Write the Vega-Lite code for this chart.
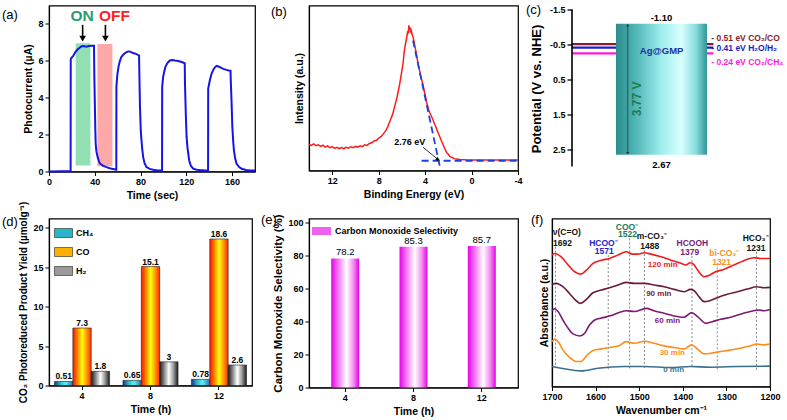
{
  "$schema": "https://vega.github.io/schema/vega-lite/v6.json",
  "background": "white",
  "padding": {"left": 1, "top": 3.5, "right": 0, "bottom": 0},
  "config": {
    "font": "Liberation Sans",
    "view": {"stroke": "black", "strokeWidth": 1.2},
    "axis": {
      "grid": false, "domainColor": "black", "domainWidth": 1.2, "tickColor": "black", "tickSize": 4, "tickWidth": 1,
      "labelFont": "Liberation Sans", "labelFontSize": 9, "labelFontWeight": "bold", "labelColor": "black", "labelPadding": 2,
      "labelOverlap": false, "labelFlush": false,
      "titleFont": "Liberation Sans", "titleFontSize": 10.5, "titleFontWeight": "bold", "titleColor": "black", "titlePadding": 4
    },
    "title": {"font": "Liberation Sans", "fontSize": 13, "fontWeight": "normal", "color": "black", "anchor": "start", "frame": "group", "offset": 0, "baseline": "middle"}
  },
  "resolve": {"legend": {"fill": "independent"}},
  "spacing": -2,
  "vconcat": [
    {
      "bounds": "flush",
      "spacing": 54,
      "hconcat": [
        {
          "width": 206, "height": 166,
          "title": {"text": " (a)", "dx": -47, "dy": 20.5},
          "resolve": {"scale": {"color": "independent"}},
          "layer": [
            {
              "data": {"values": [
                {"start": 23.3, "end": 36.2, "low": 0.33, "high": 6.96, "state": "ON"},
                {"start": 42.3, "end": 55.4, "low": 0.29, "high": 6.91, "state": "OFF"}
              ]},
              "mark": {"type": "rect", "opacity": 0.9},
              "encoding": {
                "x": {"field": "start", "type": "quantitative", "scale": {"domain": [0, 180], "nice": false}, "axis": {"values": [0, 20, 40, 60, 80, 100, 120, 140, 160, 180], "title": "Time (sec)"}},
                "x2": {"field": "end"},
                "y": {"field": "low", "type": "quantitative", "scale": {"domain": [0, 9], "nice": false}, "axis": {"values": [0, 2, 4, 6, 8], "title": "Photocurrent (µA)"}},
                "y2": {"field": "high"},
                "color": {"field": "state", "type": "nominal", "scale": {"domain": ["ON", "OFF"], "range": ["#86dbab", "#ff9f9f"]}, "legend": null}
              }
            },
            {
              "data": {"values": [
                {"t": 0, "i": 0}, {"t": 10, "i": 0.01}, {"t": 18.9, "i": 0.01}, {"t": 19.0, "i": 6.1}, {"t": 20.1, "i": 6.2}, {"t": 21, "i": 6.25}, {"t": 22.5, "i": 6.42}, {"t": 24, "i": 6.55}, {"t": 25.4, "i": 6.64}, {"t": 27, "i": 6.72}, {"t": 28.3, "i": 6.78}, {"t": 30, "i": 6.8}, {"t": 32.7, "i": 6.76}, {"t": 35, "i": 6.8}, {"t": 37, "i": 6.82}, {"t": 39.3, "i": 6.82},
                {"t": 39.6, "i": 5.2}, {"t": 40, "i": 3.87}, {"t": 40.5, "i": 2.2}, {"t": 40.8, "i": 1.5}, {"t": 41.4, "i": 1.1}, {"t": 42.5, "i": 0.78}, {"t": 44.3, "i": 0.45}, {"t": 47, "i": 0.32}, {"t": 50.2, "i": 0.24}, {"t": 53, "i": 0.18}, {"t": 56, "i": 0.14}, {"t": 58.8, "i": 0.1},
                {"t": 58.9, "i": 4.6}, {"t": 59.8, "i": 5.3}, {"t": 60.8, "i": 5.7}, {"t": 61.8, "i": 5.96}, {"t": 63, "i": 6.18}, {"t": 64.8, "i": 6.33}, {"t": 67, "i": 6.45}, {"t": 69.1, "i": 6.51}, {"t": 71, "i": 6.5}, {"t": 73.5, "i": 6.42}, {"t": 76, "i": 6.38}, {"t": 78.7, "i": 6.29},
                {"t": 78.9, "i": 5.5}, {"t": 79.5, "i": 3.5}, {"t": 80.2, "i": 2.2}, {"t": 80.8, "i": 1.7}, {"t": 81.5, "i": 1.2}, {"t": 82.3, "i": 0.78}, {"t": 83.5, "i": 0.45}, {"t": 85.2, "i": 0.24}, {"t": 88, "i": 0.14}, {"t": 91, "i": 0.1}, {"t": 95, "i": 0.06}, {"t": 98.8, "i": 0.05},
                {"t": 98.9, "i": 4.6}, {"t": 99.8, "i": 5.15}, {"t": 100.8, "i": 5.45}, {"t": 101.8, "i": 5.69}, {"t": 103.5, "i": 5.88}, {"t": 105.6, "i": 6.02}, {"t": 108, "i": 6.05}, {"t": 110, "i": 6.02}, {"t": 112, "i": 6.0}, {"t": 114.4, "i": 5.96}, {"t": 116.5, "i": 5.92}, {"t": 118.6, "i": 5.87},
                {"t": 118.8, "i": 4.8}, {"t": 119.5, "i": 3.2}, {"t": 120.2, "i": 1.9}, {"t": 121, "i": 1.3}, {"t": 122.5, "i": 0.6}, {"t": 124, "i": 0.3}, {"t": 126, "i": 0.15}, {"t": 129, "i": 0.1}, {"t": 132, "i": 0.08}, {"t": 136, "i": 0.06}, {"t": 139.0, "i": 0.05},
                {"t": 139.1, "i": 4.5}, {"t": 140.6, "i": 4.96}, {"t": 142, "i": 5.3}, {"t": 143.5, "i": 5.51}, {"t": 145, "i": 5.65}, {"t": 146.4, "i": 5.73}, {"t": 148.5, "i": 5.68}, {"t": 150.8, "i": 5.6}, {"t": 153, "i": 5.55}, {"t": 155.2, "i": 5.51}, {"t": 157, "i": 5.48}, {"t": 158.6, "i": 5.47},
                {"t": 158.8, "i": 5.0}, {"t": 159.5, "i": 3.8}, {"t": 160.2, "i": 2.42}, {"t": 161, "i": 1.6}, {"t": 161.6, "i": 1.15}, {"t": 162.7, "i": 0.7}, {"t": 163.9, "i": 0.42}, {"t": 166, "i": 0.25}, {"t": 168.3, "i": 0.15}, {"t": 172, "i": 0.08}, {"t": 176, "i": 0.06}, {"t": 180, "i": 0.05}
              ]},
              "mark": {"type": "line", "color": "#1515e8", "strokeWidth": 2},
              "encoding": {
                "x": {"field": "t", "type": "quantitative", "sort": null},
                "y": {"field": "i", "type": "quantitative"}
              }
            },
            {
              "data": {"values": [{"t": 28.9, "v": 8.42, "label": "ON"}, {"t": 57.2, "v": 8.42, "label": "OFF"}]},
              "mark": {"type": "text", "fontSize": 15.5, "fontWeight": "bold"},
              "encoding": {
                "x": {"field": "t", "type": "quantitative"},
                "y": {"field": "v", "type": "quantitative"},
                "text": {"field": "label"},
                "color": {"field": "label", "type": "nominal", "scale": {"domain": ["ON", "OFF"], "range": ["#2c9c6e", "#ff1f1f"]}, "legend": null}
              }
            },
            {
              "data": {"values": [{"t": 29.4}, {"t": 49.3}]},
              "mark": {"type": "rule", "color": "black", "strokeWidth": 1.6},
              "encoding": {"x": {"field": "t", "type": "quantitative"}, "y": {"datum": 7.95}, "y2": {"datum": 7.3}}
            },
            {
              "data": {"values": [{"t": 29.4}, {"t": 49.3}]},
              "mark": {"type": "point", "shape": "triangle-down", "filled": true, "color": "black", "size": 45, "opacity": 1},
              "encoding": {"x": {"field": "t", "type": "quantitative"}, "y": {"datum": 7.2}}
            }
          ]
        },
        {
          "width": 209, "height": 165,
          "title": {"text": "(b)", "dx": -38, "dy": 17.5},
          "layer": [
            {
              "data": {"values": [
                {"e": 14.0, "v": 15.8}, {"e": 13.8, "v": 15.2}, {"e": 13.6, "v": 16.1}, {"e": 13.4, "v": 15.0}, {"e": 13.2, "v": 15.6}, {"e": 13.0, "v": 14.6}, {"e": 12.8, "v": 15.3}, {"e": 12.6, "v": 14.2}, {"e": 12.4, "v": 14.9}, {"e": 12.2, "v": 13.8}, {"e": 12.0, "v": 14.5}, {"e": 11.8, "v": 13.4}, {"e": 11.6, "v": 14.1}, {"e": 11.4, "v": 13.3}, {"e": 11.2, "v": 13.9}, {"e": 11.0, "v": 13.2}, {"e": 10.8, "v": 14.0}, {"e": 10.6, "v": 13.5}, {"e": 10.4, "v": 14.4}, {"e": 10.2, "v": 13.8}, {"e": 10.0, "v": 14.6}, {"e": 9.8, "v": 14.2}, {"e": 9.6, "v": 15.0}, {"e": 9.4, "v": 14.5}, {"e": 9.2, "v": 15.6}, {"e": 9.0, "v": 15.2}, {"e": 8.8, "v": 16.4}, {"e": 8.6, "v": 16.8}, {"e": 8.4, "v": 17.9}, {"e": 8.2, "v": 18.2}, {"e": 8.0, "v": 19.6}, {"e": 7.8, "v": 20.5}, {"e": 7.6, "v": 22.2}, {"e": 7.4, "v": 24.0}, {"e": 7.2, "v": 26.8}, {"e": 7.0, "v": 30.5}, {"e": 6.8, "v": 34.0}, {"e": 6.6, "v": 39.5}, {"e": 6.4, "v": 45.0}, {"e": 6.2, "v": 52.0}, {"e": 6.0, "v": 60.5}, {"e": 5.9, "v": 65.0}, {"e": 5.8, "v": 72.0}, {"e": 5.7, "v": 76.5}, {"e": 5.6, "v": 80.0}, {"e": 5.5, "v": 84.5}, {"e": 5.45, "v": 83.0}, {"e": 5.4, "v": 88.0}, {"e": 5.35, "v": 85.5}, {"e": 5.3, "v": 86.8}, {"e": 5.25, "v": 83.5}, {"e": 5.2, "v": 84.8}, {"e": 5.1, "v": 82.0}, {"e": 5.0, "v": 79.8}, {"e": 4.9, "v": 76.0}, {"e": 4.8, "v": 72.5}, {"e": 4.7, "v": 68.5}, {"e": 4.6, "v": 64.6}, {"e": 4.5, "v": 61.5}, {"e": 4.4, "v": 58.0}, {"e": 4.3, "v": 55.0}, {"e": 4.2, "v": 52.5}, {"e": 4.1, "v": 49.0}, {"e": 4.0, "v": 46.0}, {"e": 3.9, "v": 42.5}, {"e": 3.8, "v": 39.5}, {"e": 3.7, "v": 37.0}, {"e": 3.6, "v": 35.0}, {"e": 3.5, "v": 33.5}, {"e": 3.4, "v": 32.0}, {"e": 3.3, "v": 30.3}, {"e": 3.2, "v": 28.5}, {"e": 3.1, "v": 26.8}, {"e": 3.0, "v": 25.0}, {"e": 2.9, "v": 23.2}, {"e": 2.8, "v": 21.5}, {"e": 2.7, "v": 19.8}, {"e": 2.6, "v": 18.0}, {"e": 2.5, "v": 16.5}, {"e": 2.4, "v": 14.8}, {"e": 2.3, "v": 13.2}, {"e": 2.2, "v": 11.8}, {"e": 2.1, "v": 10.5}, {"e": 2.0, "v": 9.8}, {"e": 1.9, "v": 8.8}, {"e": 1.8, "v": 8.2}, {"e": 1.65, "v": 7.7}, {"e": 1.5, "v": 7.2}, {"e": 1.3, "v": 6.9}, {"e": 1.0, "v": 6.7}, {"e": 0.5, "v": 6.5}, {"e": 0.0, "v": 6.4}, {"e": -1.0, "v": 6.3}, {"e": -2.0, "v": 6.3}, {"e": -3.0, "v": 6.3}, {"e": -4.0, "v": 6.3}
              ]},
              "mark": {"type": "line", "color": "#ff1a1a", "strokeWidth": 1.5},
              "encoding": {
                "x": {"field": "e", "type": "quantitative", "scale": {"domain": [-4, 14], "reverse": true, "nice": false}, "axis": {"values": [14, 12, 10, 8, 6, 4, 2, 0, -2, -4], "title": "Binding Energy (eV)", "labelExpr": "replace(format(datum.value, 'd'), '−', '-')"}},
                "y": {"field": "v", "type": "quantitative", "scale": {"domain": [0, 100], "nice": false}, "axis": {"labels": false, "ticks": false, "title": "Intensity (a.u.)", "titlePadding": 5}}
              }
            },
            {
              "data": {"values": [
                {"seg": "tangent", "e": 5.04, "v": 78.8}, {"seg": "tangent", "e": 2.69, "v": 1.0},
                {"seg": "base", "e": 4.3, "v": 5.9}, {"seg": "base", "e": -4, "v": 5.9}
              ]},
              "mark": {"type": "line", "color": "#1f3fe0", "strokeWidth": 1.8, "strokeDash": [7, 4]},
              "encoding": {
                "x": {"field": "e", "type": "quantitative"},
                "y": {"field": "v", "type": "quantitative"},
                "detail": {"field": "seg"}
              }
            },
            {
              "data": {"values": [{"e1": 4.18, "v1": 14.1, "e2": 2.95, "v2": 7.0}]},
              "mark": {"type": "rule", "color": "black", "strokeWidth": 0.8},
              "encoding": {
                "x": {"field": "e1", "type": "quantitative"}, "y": {"field": "v1", "type": "quantitative"},
                "x2": {"field": "e2"}, "y2": {"field": "v2"}
              }
            },
            {
              "data": {"values": [{"e": 2.9, "v": 6.6}]},
              "mark": {"type": "point", "shape": "triangle-up", "angle": 130, "filled": true, "color": "black", "size": 18, "opacity": 1},
              "encoding": {"x": {"field": "e", "type": "quantitative"}, "y": {"field": "v", "type": "quantitative"}}
            },
            {
              "data": {"values": [{"e": 5.33, "v": 17.2, "label": "2.76 eV"}]},
              "mark": {"type": "text", "fontSize": 9, "fontWeight": "bold", "color": "black"},
              "encoding": {"x": {"field": "e", "type": "quantitative"}, "y": {"field": "v", "type": "quantitative"}, "text": {"field": "label"}}
            }
          ]
        },
        {
          "width": 140, "height": 166,
          "view": {"stroke": null},
          "title": {"text": "(c)", "dx": -46, "dy": 15.5},
          "layer": [
            {
              "data": {"values": [
                {"pair": "CO₂/CO", "pot": -0.51, "ly": -0.67, "label": "- 0.51 eV CO₂/CO"},
                {"pair": "H₂O/H₂", "pot": -0.41, "ly": -0.40, "label": "- 0.41 eV H₂O/H₂"},
                {"pair": "CO₂/CH₄", "pot": -0.24, "ly": 0.0, "label": "- 0.24 eV CO₂/CH₄"}
              ]},
              "layer": [
                {
                  "mark": {"type": "rule", "strokeWidth": 2.2},
                  "encoding": {
                    "x": {"datum": 0, "type": "quantitative", "scale": {"domain": [0, 100], "nice": false}, "axis": null}, "x2": {"datum": 101},
                    "y": {"field": "pot", "type": "quantitative", "scale": {"domain": [-1.615, 3.143], "nice": false, "zero": false, "reverse": true},
                      "axis": {"values": [-1.5, -1, -0.5, 0, 0.5, 1, 1.5, 2, 2.5, 3], "domain": false, "tickSize": 5, "tickWidth": 1.3, "labelExpr": "replace(format(datum.value, '.1f'), '−', '-')", "title": "Potential (V vs. NHE)", "titleFontSize": 13, "titlePadding": 6}},
                    "color": {"field": "pair", "type": "nominal", "scale": {"domain": ["CO₂/CO", "H₂O/H₂", "CO₂/CH₄"], "range": ["#8b1a2b", "#1c1ccc", "#ff1ad9"]}, "legend": null}
                  }
                },
                {
                  "mark": {"type": "text", "align": "left", "fontSize": 8.5, "fontWeight": "bold"},
                  "encoding": {
                    "x": {"datum": 99.5},
                    "y": {"field": "ly", "type": "quantitative"},
                    "text": {"field": "label"},
                    "color": {"field": "pair", "type": "nominal"}
                  }
                }
              ]
            },
            {
              "data": {"values": [{"left": 31.4, "right": 96.4, "cbm": -1.09, "vbm": 2.66}]},
              "mark": {"type": "rect", "fill": {"gradient": "linear", "x1": 0, "y1": 0, "x2": 1, "y2": 0, "stops": [
                {"offset": 0, "color": "#2b8c8c"}, {"offset": 0.2, "color": "#4cb3b3"}, {"offset": 0.5, "color": "#9eeeee"}, {"offset": 0.72, "color": "#d9ffff"}, {"offset": 0.88, "color": "#86dcdc"}, {"offset": 1, "color": "#2f9595"}
              ]}},
              "encoding": {
                "x": {"field": "left", "type": "quantitative"},
                "x2": {"field": "right"},
                "y": {"field": "cbm", "type": "quantitative"},
                "y2": {"field": "vbm"}
              }
            },
            {
              "data": {"values": [{}]},
              "mark": {"type": "rule", "color": "black", "strokeWidth": 1.6},
              "encoding": {"x": {"datum": 0}, "y": {"datum": -1.5}, "y2": {"datum": 3.0}}
            },
            {
              "data": {"values": [{"txt": "-1.10", "pot": -1.26}, {"txt": "2.67", "pot": 2.97}]},
              "mark": {"type": "text", "fontSize": 9.5, "fontWeight": "bold", "color": "black"},
              "encoding": {"x": {"datum": 63.9}, "y": {"field": "pot", "type": "quantitative"}, "text": {"field": "txt"}}
            },
            {
              "data": {"values": [{"txt": "Ag@GMP", "pot": -0.30}]},
              "mark": {"type": "text", "fontSize": 9.5, "fontWeight": "bold", "color": "#1a2f9f"},
              "encoding": {"x": {"datum": 64}, "y": {"field": "pot", "type": "quantitative"}, "text": {"field": "txt"}}
            },
            {
              "data": {"values": [{"txt": "3.77 V", "pot": 1.06}]},
              "mark": {"type": "text", "fontSize": 12, "fontWeight": "bold", "color": "#1f7a50", "angle": 270},
              "encoding": {"x": {"datum": 46.2}, "y": {"field": "pot", "type": "quantitative"}, "text": {"field": "txt"}}
            },
            {
              "data": {"values": [{}]},
              "mark": {"type": "rule", "color": "#333333", "strokeWidth": 0.8},
              "encoding": {"x": {"datum": 39.8}, "y": {"datum": -1.06}, "y2": {"datum": 2.63}}
            },
            {
              "data": {"values": [{"pot": -1.05, "dir": "up"}, {"pot": 2.62, "dir": "down"}]},
              "mark": {"type": "point", "filled": true, "color": "#333333", "size": 10, "opacity": 1},
              "encoding": {
                "x": {"datum": 39.8}, "y": {"field": "pot", "type": "quantitative"},
                "shape": {"field": "dir", "type": "nominal", "scale": {"domain": ["up", "down"], "range": ["triangle-up", "triangle-down"]}, "legend": null}
              }
            }
          ]
        }
      ]
    },
    {
      "spacing": 11,
      "resolve": {"legend": {"fill": "independent"}},
      "hconcat": [
        {
          "bounds": "flush",
          "spacing": 57,
          "resolve": {"scale": {"fill": "independent"}, "legend": {"fill": "independent"}},
          "hconcat": [
            {
              "width": 203, "height": 167,
              "title": {"text": "(d)", "dx": -47, "dy": 31.5},
              "data": {"values": [
                {"time": 4, "gas": "CH₄", "yield": 0.51}, {"time": 4, "gas": "CO", "yield": 7.3}, {"time": 4, "gas": "H₂", "yield": 1.8},
                {"time": 8, "gas": "CH₄", "yield": 0.65}, {"time": 8, "gas": "CO", "yield": 15.1}, {"time": 8, "gas": "H₂", "yield": 3},
                {"time": 12, "gas": "CH₄", "yield": 0.78}, {"time": 12, "gas": "CO", "yield": 18.6}, {"time": 12, "gas": "H₂", "yield": 2.6}
              ]},
              "encoding": {
                "x": {"field": "time", "type": "ordinal", "scale": {"paddingInner": 0.195, "paddingOuter": 0.08}, "axis": {"labelAngle": 0, "title": "Time (h)"}},
                "xOffset": {"field": "gas", "type": "nominal", "sort": ["CH₄", "CO", "H₂"], "scale": {"domain": ["CH₄", "CO", "H₂"], "paddingInner": 0, "paddingOuter": 0}},
                "y": {"field": "yield", "type": "quantitative", "scale": {"domain": [0, 21.2], "nice": false}, "axis": {"values": [0, 5, 10, 15, 20], "title": "CO₂ Photoreduced Product Yield (µmolg⁻¹)", "titleFontSize": 10}}
              },
              "layer": [
                {
                  "transform": [{"filter": "datum.gas === 'CH₄'"}],
                  "mark": {"type": "bar", "stroke": "#222222", "strokeWidth": 0.6, "fill": {"gradient": "linear", "x1": 0, "y1": 0, "x2": 1, "y2": 0, "stops": [{"offset": 0, "color": "#1b2d8c"}, {"offset": 0.3, "color": "#2bb5c8"}, {"offset": 0.6, "color": "#5cf2f0"}, {"offset": 1, "color": "#2a6fb0"}]}}
                },
                {
                  "transform": [{"filter": "datum.gas === 'CO'"}],
                  "mark": {"type": "bar", "stroke": "#222222", "strokeWidth": 0.6, "fill": {"gradient": "linear", "x1": 0, "y1": 0, "x2": 1, "y2": 0, "stops": [{"offset": 0, "color": "#ff1500"}, {"offset": 0.3, "color": "#ff9a00"}, {"offset": 0.5, "color": "#ffff10"}, {"offset": 0.7, "color": "#ffb000"}, {"offset": 1, "color": "#ff2a00"}]}}
                },
                {
                  "transform": [{"filter": "datum.gas === 'H₂'"}],
                  "mark": {"type": "bar", "stroke": "#222222", "strokeWidth": 0.6, "fill": {"gradient": "linear", "x1": 0, "y1": 0, "x2": 1, "y2": 0, "stops": [{"offset": 0, "color": "#1a1a1a"}, {"offset": 0.25, "color": "#8a8a8a"}, {"offset": 0.5, "color": "#ffffff"}, {"offset": 0.75, "color": "#9a9a9a"}, {"offset": 1, "color": "#1a1a1a"}]}}
                },
                {
                  "transform": [{"filter": "datum.yield < 0"}],
                  "mark": {"type": "bar"},
                  "encoding": {
                    "fill": {"field": "gas", "type": "nominal", "scale": {"domain": ["CH₄", "CO", "H₂"], "range": ["#2bb5c8", "#ffb000", "#9a9a9a"]},
                      "legend": {"title": null, "orient": "top-left", "offset": 5, "padding": 0, "symbolType": "M-1,-0.5H1V0.5H-1Z", "symbolSize": 324, "symbolStrokeColor": "#222222", "symbolStrokeWidth": 0.6, "labelFont": "Liberation Sans", "labelFontSize": 9, "labelFontWeight": "bold", "labelColor": "black", "rowPadding": 3, "labelOffset": 3}
                    }
                  }
                },
                {
                  "mark": {"type": "text", "dy": -5, "fontSize": 8.5, "fontWeight": "bold", "color": "black"},
                  "encoding": {"text": {"field": "yield", "type": "nominal"}}
                }
              ]
            },
            {
              "width": 209, "height": 169,
              "title": {"text": "(e)", "dx": -48, "dy": 17},
              "data": {"values": [{"time": 4, "sel": 78.2}, {"time": 8, "sel": 85.3}, {"time": 12, "sel": 85.7}]},
              "encoding": {
                "x": {"field": "time", "type": "ordinal", "scale": {"paddingInner": 0.59, "paddingOuter": 0.325}, "axis": {"labelAngle": 0, "title": "Time (h)"}},
                "y": {"field": "sel", "type": "quantitative", "scale": {"domain": [0, 102.4], "nice": false}, "axis": {"values": [0, 20, 40, 60, 80, 100], "title": "Carbon Monoxide Selectivity (%)", "titleFontSize": 11.5}}
              },
              "layer": [
                {
                  "mark": {"type": "bar", "fill": {"gradient": "linear", "x1": 0, "y1": 0, "x2": 1, "y2": 0, "stops": [{"offset": 0, "color": "#e800e8"}, {"offset": 0.25, "color": "#f277f2"}, {"offset": 0.55, "color": "#ffffff"}, {"offset": 0.8, "color": "#f38cf3"}, {"offset": 1, "color": "#e400e4"}]}}
                },
                {
                  "transform": [{"filter": "datum.sel < 0"}],
                  "mark": {"type": "bar"},
                  "encoding": {
                    "fill": {"datum": "Carbon Monoxide Selectivity", "type": "nominal", "scale": {"domain": ["Carbon Monoxide Selectivity"], "range": ["#f060f0"]},
                      "legend": {"title": null, "orient": "top-left", "offset": 3, "padding": 0, "symbolType": "M-1,-0.42H1V0.42H-1Z", "symbolSize": 361, "symbolStrokeWidth": 0, "labelFont": "Liberation Sans", "labelFontSize": 9, "labelFontWeight": "bold", "labelColor": "black", "labelOffset": 4}
                    }
                  }
                },
                {
                  "mark": {"type": "text", "dy": -6, "fontSize": 9.5, "color": "black"},
                  "encoding": {"text": {"field": "sel", "type": "nominal"}}
                }
              ]
            }
          ]
        },
        {
          "width": 218, "height": 168,
          "title": {"text": "(f)", "dx": -21, "dy": 12.5},
          "resolve": {"scale": {"color": "independent"}},
          "layer": [
            {
              "data": {"values": [
                {"wn": 1692, "top": 83.2, "bottom": 10.9}, {"wn": 1571, "top": 78.2, "bottom": 9.9}, {"wn": 1522, "top": 88.1, "bottom": 9.9},
                {"wn": 1488, "top": 81.2, "bottom": 10.9}, {"wn": 1379, "top": 77.6, "bottom": 10.9}, {"wn": 1321, "top": 73.3, "bottom": 8.9}, {"wn": 1231, "top": 80.2, "bottom": 9.9}
              ]},
              "mark": {"type": "rule", "color": "#777777", "strokeWidth": 0.9, "strokeDash": [2, 2]},
              "encoding": {
                "x": {"field": "wn", "type": "quantitative", "scale": {"domain": [1200, 1700], "reverse": true, "nice": false}, "axis": {"values": [1700, 1600, 1500, 1400, 1300, 1200], "format": "d", "title": "Wavenumber cm⁻¹"}},
                "y": {"field": "top", "type": "quantitative", "scale": {"domain": [0, 100], "nice": false}, "axis": {"labels": false, "ticks": false, "title": "Absorbance (a.u.)", "titlePadding": 3}},
                "y2": {"field": "bottom"}
              }
            },
            {
              "data": {"values": [
                {"series": "120 min", "wn": 1700, "a": 78.2}, {"series": "120 min", "wn": 1694, "a": 79.2}, {"series": "120 min", "wn": 1679, "a": 77.2}, {"series": "120 min", "wn": 1663, "a": 72.3}, {"series": "120 min", "wn": 1648, "a": 68.3}, {"series": "120 min", "wn": 1634, "a": 66.9}, {"series": "120 min", "wn": 1621, "a": 69.3}, {"series": "120 min", "wn": 1606, "a": 73.3}, {"series": "120 min", "wn": 1587, "a": 75.2}, {"series": "120 min", "wn": 1568, "a": 76.2}, {"series": "120 min", "wn": 1549, "a": 78.2}, {"series": "120 min", "wn": 1530, "a": 80.2}, {"series": "120 min", "wn": 1515, "a": 78.8}, {"series": "120 min", "wn": 1503, "a": 78.8}, {"series": "120 min", "wn": 1488, "a": 79.6}, {"series": "120 min", "wn": 1473, "a": 78.8}, {"series": "120 min", "wn": 1450, "a": 77.2}, {"series": "120 min", "wn": 1427, "a": 75.2}, {"series": "120 min", "wn": 1404, "a": 73.3}, {"series": "120 min", "wn": 1393, "a": 72.3}, {"series": "120 min", "wn": 1383, "a": 73.7}, {"series": "120 min", "wn": 1375, "a": 72.7}, {"series": "120 min", "wn": 1366, "a": 69.3}, {"series": "120 min", "wn": 1351, "a": 65.3}, {"series": "120 min", "wn": 1340, "a": 66.1}, {"series": "120 min", "wn": 1325, "a": 68.3}, {"series": "120 min", "wn": 1306, "a": 69.7}, {"series": "120 min", "wn": 1283, "a": 72.3}, {"series": "120 min", "wn": 1260, "a": 74.9}, {"series": "120 min", "wn": 1237, "a": 76.6}, {"series": "120 min", "wn": 1221, "a": 76.2}, {"series": "120 min", "wn": 1200, "a": 76.2},
                {"series": "90 min", "wn": 1700, "a": 60.8}, {"series": "90 min", "wn": 1690, "a": 61.4}, {"series": "90 min", "wn": 1675, "a": 59.4}, {"series": "90 min", "wn": 1660, "a": 55.4}, {"series": "90 min", "wn": 1648, "a": 51.9}, {"series": "90 min", "wn": 1634, "a": 49.5}, {"series": "90 min", "wn": 1621, "a": 51.9}, {"series": "90 min", "wn": 1606, "a": 55.8}, {"series": "90 min", "wn": 1587, "a": 57.4}, {"series": "90 min", "wn": 1568, "a": 58.8}, {"series": "90 min", "wn": 1549, "a": 60.4}, {"series": "90 min", "wn": 1530, "a": 62.0}, {"series": "90 min", "wn": 1511, "a": 61.4}, {"series": "90 min", "wn": 1488, "a": 61.4}, {"series": "90 min", "wn": 1466, "a": 60.4}, {"series": "90 min", "wn": 1443, "a": 59.4}, {"series": "90 min", "wn": 1420, "a": 57.8}, {"series": "90 min", "wn": 1397, "a": 56.4}, {"series": "90 min", "wn": 1383, "a": 57.8}, {"series": "90 min", "wn": 1374, "a": 57.0}, {"series": "90 min", "wn": 1363, "a": 53.5}, {"series": "90 min", "wn": 1351, "a": 50.5}, {"series": "90 min", "wn": 1340, "a": 50.9}, {"series": "90 min", "wn": 1321, "a": 52.9}, {"series": "90 min", "wn": 1298, "a": 54.9}, {"series": "90 min", "wn": 1275, "a": 56.4}, {"series": "90 min", "wn": 1252, "a": 58.0}, {"series": "90 min", "wn": 1230, "a": 59.4}, {"series": "90 min", "wn": 1214, "a": 58.8}, {"series": "90 min", "wn": 1200, "a": 59.0},
                {"series": "60 min", "wn": 1700, "a": 45.1}, {"series": "60 min", "wn": 1694, "a": 46.3}, {"series": "60 min", "wn": 1686, "a": 44.6}, {"series": "60 min", "wn": 1675, "a": 39.6}, {"series": "60 min", "wn": 1663, "a": 34.7}, {"series": "60 min", "wn": 1652, "a": 31.3}, {"series": "60 min", "wn": 1636, "a": 30.1}, {"series": "60 min", "wn": 1625, "a": 31.7}, {"series": "60 min", "wn": 1614, "a": 36.6}, {"series": "60 min", "wn": 1602, "a": 39.6}, {"series": "60 min", "wn": 1583, "a": 41.0}, {"series": "60 min", "wn": 1564, "a": 42.2}, {"series": "60 min", "wn": 1545, "a": 44.2}, {"series": "60 min", "wn": 1530, "a": 45.1}, {"series": "60 min", "wn": 1511, "a": 44.6}, {"series": "60 min", "wn": 1484, "a": 46.5}, {"series": "60 min", "wn": 1466, "a": 45.1}, {"series": "60 min", "wn": 1443, "a": 43.6}, {"series": "60 min", "wn": 1420, "a": 42.0}, {"series": "60 min", "wn": 1397, "a": 41.2}, {"series": "60 min", "wn": 1380, "a": 44.0}, {"series": "60 min", "wn": 1366, "a": 41.6}, {"series": "60 min", "wn": 1347, "a": 37.6}, {"series": "60 min", "wn": 1332, "a": 38.6}, {"series": "60 min", "wn": 1313, "a": 40.0}, {"series": "60 min", "wn": 1290, "a": 41.2}, {"series": "60 min", "wn": 1268, "a": 43.0}, {"series": "60 min", "wn": 1245, "a": 44.6}, {"series": "60 min", "wn": 1226, "a": 45.5}, {"series": "60 min", "wn": 1214, "a": 45.1}, {"series": "60 min", "wn": 1200, "a": 45.9},
                {"series": "30 min", "wn": 1700, "a": 26.7}, {"series": "30 min", "wn": 1694, "a": 28.3}, {"series": "30 min", "wn": 1686, "a": 26.7}, {"series": "30 min", "wn": 1675, "a": 21.8}, {"series": "30 min", "wn": 1660, "a": 17.4}, {"series": "30 min", "wn": 1644, "a": 14.9}, {"series": "30 min", "wn": 1633, "a": 14.9}, {"series": "30 min", "wn": 1621, "a": 18.2}, {"series": "30 min", "wn": 1606, "a": 21.4}, {"series": "30 min", "wn": 1587, "a": 22.4}, {"series": "30 min", "wn": 1564, "a": 23.4}, {"series": "30 min", "wn": 1545, "a": 24.4}, {"series": "30 min", "wn": 1530, "a": 26.7}, {"series": "30 min", "wn": 1511, "a": 25.7}, {"series": "30 min", "wn": 1488, "a": 26.9}, {"series": "30 min", "wn": 1466, "a": 25.7}, {"series": "30 min", "wn": 1443, "a": 24.2}, {"series": "30 min", "wn": 1420, "a": 23.2}, {"series": "30 min", "wn": 1397, "a": 22.4}, {"series": "30 min", "wn": 1380, "a": 24.8}, {"series": "30 min", "wn": 1366, "a": 22.2}, {"series": "30 min", "wn": 1351, "a": 19.4}, {"series": "30 min", "wn": 1336, "a": 19.8}, {"series": "30 min", "wn": 1313, "a": 20.8}, {"series": "30 min", "wn": 1290, "a": 21.8}, {"series": "30 min", "wn": 1268, "a": 22.8}, {"series": "30 min", "wn": 1245, "a": 24.2}, {"series": "30 min", "wn": 1230, "a": 25.3}, {"series": "30 min", "wn": 1214, "a": 24.8}, {"series": "30 min", "wn": 1200, "a": 25.3},
                {"series": "0 min", "wn": 1700, "a": 11.9}, {"series": "0 min", "wn": 1679, "a": 10.9}, {"series": "0 min", "wn": 1633, "a": 9.3}, {"series": "0 min", "wn": 1595, "a": 10.9}, {"series": "0 min", "wn": 1534, "a": 11.9}, {"series": "0 min", "wn": 1488, "a": 11.9}, {"series": "0 min", "wn": 1427, "a": 11.3}, {"series": "0 min", "wn": 1382, "a": 11.9}, {"series": "0 min", "wn": 1336, "a": 11.5}, {"series": "0 min", "wn": 1275, "a": 11.9}, {"series": "0 min", "wn": 1200, "a": 12.1}
              ]},
              "mark": {"type": "line", "strokeWidth": 1.6, "interpolate": "monotone"},
              "encoding": {
                "x": {"field": "wn", "type": "quantitative"},
                "y": {"field": "a", "type": "quantitative"},
                "color": {"field": "series", "type": "nominal", "scale": {"domain": ["0 min", "30 min", "60 min", "90 min", "120 min"], "range": ["#3b6e8f", "#ff8c1a", "#7b1a73", "#6b1a3f", "#ee1c1c"]}, "legend": null}
              }
            },
            {
              "data": {"values": [
                {"series": "120 min", "wn": 1446, "a": 72.3}, {"series": "90 min", "wn": 1455, "a": 55.0}, {"series": "60 min", "wn": 1435, "a": 39.0},
                {"series": "30 min", "wn": 1424, "a": 20.2}, {"series": "0 min", "wn": 1421, "a": 9.9}
              ]},
              "mark": {"type": "text", "fontSize": 8, "fontWeight": "bold"},
              "encoding": {
                "x": {"field": "wn", "type": "quantitative"},
                "y": {"field": "a", "type": "quantitative"},
                "text": {"field": "series"},
                "color": {"field": "series", "type": "nominal", "scale": {"domain": ["0 min", "30 min", "60 min", "90 min", "120 min"], "range": ["#3b7a8f", "#ff8c1a", "#7b1a7b", "#7b1a3a", "#ee1c1c"]}, "legend": null}
              }
            },
            {
              "data": {"values": [
                {"species": "ν(C=O)", "num": "1692", "xn": 1666, "yn": 92.1, "xv": 1676, "yv": 85.6},
                {"species": "HCOO⁻", "num": "1571", "xn": 1582, "yn": 85.6, "xv": 1580, "yv": 80.6},
                {"species": "COO⁻", "num": "1522", "xn": 1528, "yn": 94.7, "xv": 1527, "yv": 90.5},
                {"species": "m-CO₃⁻", "num": "1488", "xn": 1471, "yn": 89.3, "xv": 1476, "yv": 83.8},
                {"species": "HCOOH", "num": "1379", "xn": 1378, "yn": 85.6, "xv": 1384, "yv": 79.8},
                {"species": "bi-CO₃⁻", "num": "1321", "xn": 1305, "yn": 79.2, "xv": 1311, "yv": 74.3},
                {"species": "HCO₃⁻", "num": "1231", "xn": 1233, "yn": 88.1, "xv": 1232, "yv": 82.2}
              ]},
              "layer": [
                {
                  "mark": {"type": "text", "fontSize": 8.5, "fontWeight": "bold"},
                  "encoding": {
                    "x": {"field": "xn", "type": "quantitative"},
                    "y": {"field": "yn", "type": "quantitative"},
                    "text": {"field": "species"},
                    "color": {"field": "species", "type": "nominal", "scale": {"domain": ["ν(C=O)", "HCOO⁻", "COO⁻", "m-CO₃⁻", "HCOOH", "bi-CO₃⁻", "HCO₃⁻"], "range": ["#111111", "#2323c8", "#1a7a5a", "#111111", "#7b1a7b", "#ff9020", "#111111"]}, "legend": null}
                  }
                },
                {
                  "mark": {"type": "text", "fontSize": 8.5, "fontWeight": "bold"},
                  "encoding": {
                    "x": {"field": "xv", "type": "quantitative"},
                    "y": {"field": "yv", "type": "quantitative"},
                    "text": {"field": "num"},
                    "color": {"field": "species", "type": "nominal", "scale": {"domain": ["ν(C=O)", "HCOO⁻", "COO⁻", "m-CO₃⁻", "HCOOH", "bi-CO₃⁻", "HCO₃⁻"], "range": ["#111111", "#2323c8", "#1a7a5a", "#111111", "#7b1a7b", "#ff9020", "#111111"]}, "legend": null}
                  }
                }
              ]
            }
          ]
        }
      ]
    }
  ]
}
